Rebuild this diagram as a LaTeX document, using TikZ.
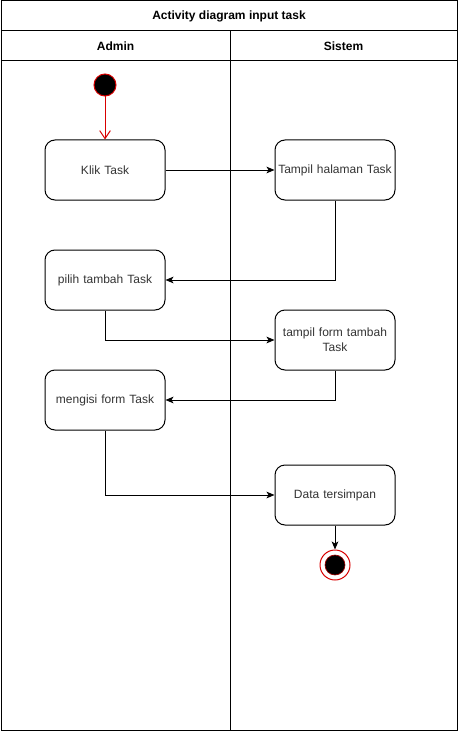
\documentclass[tikz,border=0pt]{standalone}
\usepackage{fontspec}
\setmainfont{Liberation Sans}
\usetikzlibrary{positioning, arrows.meta}

\begin{document}
\begin{tikzpicture}[
        x=0.75pt, y=-0.75pt,
        >={Stealth[length=6pt, width=5pt, inset=1.5pt]},
        % Styles
        actbox/.style={rectangle, draw, line width=0.75pt, rounded corners=7.5pt, minimum height=45pt,
                minimum width=90pt, text width=86pt, inner sep=1pt, align=center,
                font=\fontsize{9}{11}\selectfont, text=black!80},
        lanelab/.style={font=\bfseries\fontsize{9}{11}\selectfont},
        lane/.style={draw, line width=0.75pt},
        arrow/.style={->, line width=0.75pt},
        startarrow/.style={-{Straight Barb[length=6pt, width=8pt]}, line width=0.75pt, red!85!black},
        initnode/.style={circle, draw=red!85!black, fill=black, line width=0.75pt, minimum size=16.5pt, inner sep=0pt},
        finalnode/.style={circle, draw=red!85!black, fill=white, line width=0.75pt, minimum size=22.5pt, inner sep=0pt},
        finaldot/.style={circle, draw=red!60!black, fill=black, line width=0.5pt, minimum size=15pt, inner sep=0pt}, ]

        \useasboundingbox (0,0) rectangle (458,731);

        % === SWIMLANES ===
        \draw[lane] (1,1) rectangle (457,730);
        \draw[lane] (1,31) -- (457,31);
        \draw[lane] (1,61) -- (457,61);
        \draw[lane] (230,31) -- (230,730);
        \node[lanelab] (title) at (229,16) {Activity diagram input task};
        \node[lanelab] (admin) at (115.5,46) {Admin};
        \node[lanelab] (sistem) at (343.5,46) {Sistem};

        % === NODES ===
        \node[initnode] (start) at (105,85) {};
        \node[actbox] (klik) at (105,170) {Klik Task};
        \node[actbox] (tampil) at (335,170) {Tampil halaman Task};
        \node[actbox] (pilih) at (105,280) {pilih tambah Task};
        \node[actbox] (tform) at (335,340) {tampil form tambah\\Task};
        \node[actbox] (mengisi) at (105,400) {mengisi form Task};
        \node[actbox] (data) at (335,495) {Data tersimpan};
        \node[finalnode] (final) at (335,565) {};
        \node[finaldot] at (final.center) (finaldot) {};

        % Connections
        \draw[startarrow] (start) -- (klik);
        \draw[arrow] (klik) -- (tampil);
        \draw[arrow] (tampil.south) |- (pilih.east);
        \draw[arrow] (pilih.south) |- (tform.west);
        \draw[arrow] (tform.south) |- (mengisi.east);
        \draw[arrow] (mengisi.south) |- (data.west);
        \draw[arrow] (data) -- (final);

    \end{tikzpicture}
\end{document}
